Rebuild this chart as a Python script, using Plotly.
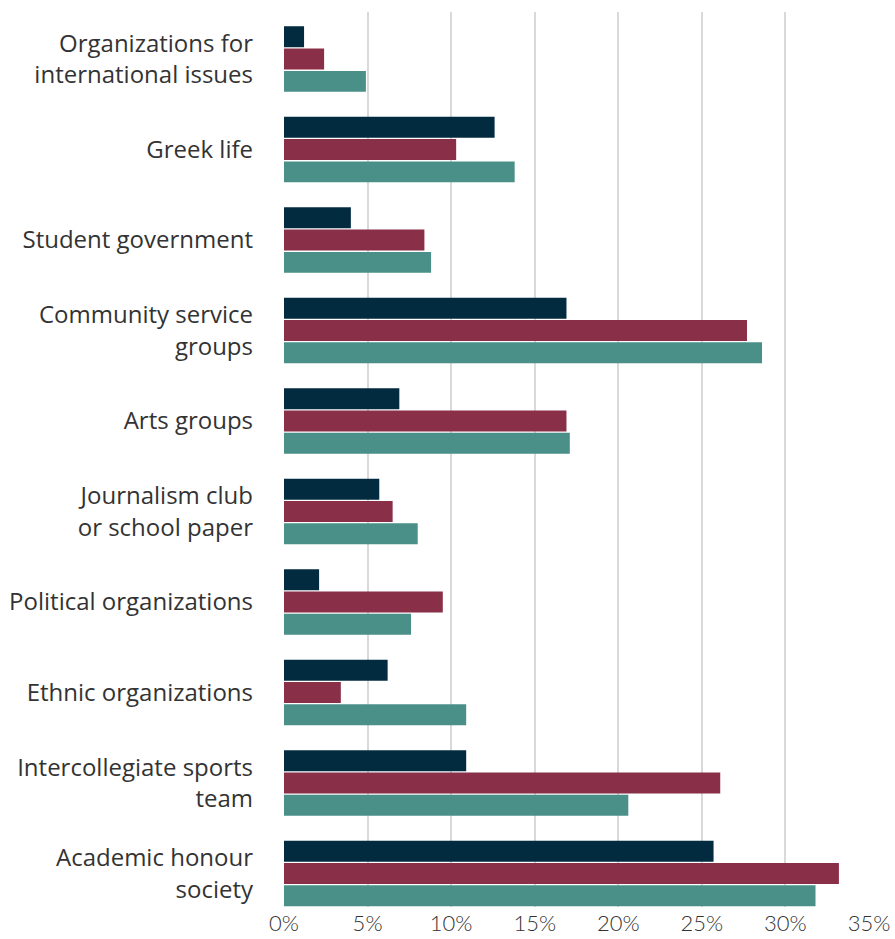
import plotly.graph_objects as go

# Student organisations, top to bottom
categories = [
    "Organizations for<br>international issues",
    "Greek life",
    "Student government",
    "Community service<br>groups",
    "Arts groups",
    "Journalism club<br>or school paper",
    "Political organizations",
    "Ethnic organizations",
    "Intercollegiate sports<br>team",
    "Academic honour<br>society",
]

# Share of students participating (%), one list per group
series_a = [1.2, 12.6, 4.0, 16.9, 6.9, 5.7, 2.1, 6.2, 10.9, 25.7]
series_b = [2.4, 10.3, 8.4, 27.7, 16.9, 6.5, 9.5, 3.4, 26.1, 33.2]
series_c = [4.9, 13.8, 8.8, 28.6, 17.1, 8.0, 7.6, 10.9, 20.6, 31.8]

series_names = ["Group A", "Group B", "Group C"]
series_colors = ["#022b40", "#8a2f48", "#4a8f88"]

x_ticks = [0, 5, 10, 15, 20, 25, 30, 35]
x_tick_labels = ["0%", "5%", "10%", "15%", "20%", "25%", "30%", "35%"]

fig = go.Figure()
for name, values, color in zip(series_names, [series_a, series_b, series_c], series_colors):
    fig.add_trace(go.Bar(
        y=categories,
        x=values,
        name=name,
        orientation="h",
        marker=dict(color=color, line=dict(width=0)),
    ))

fig.update_layout(
    width=895,
    height=939,
    margin=dict(l=284, r=26, t=12, b=32),
    paper_bgcolor="white",
    plot_bgcolor="white",
    barmode="group",
    bargap=0.26,
    bargroupgap=0.06,
    showlegend=False,
    font=dict(family="Open Sans", color="#333333"),
)

fig.update_xaxes(
    range=[0, 35],
    tickvals=x_ticks,
    ticktext=x_tick_labels,
    showgrid=True,
    gridcolor="#d9d9d9",
    gridwidth=2,
    zeroline=False,
    showline=False,
    automargin=False,
    tickfont=dict(family="Lato", size=22, color="#333333", weight=300),
    ticks="",
    ticklabelstandoff=1,
)

fig.update_yaxes(
    type="category",
    range=[9.37, -0.52],
    showgrid=False,
    zeroline=False,
    showline=False,
    automargin=False,
    ticks="",
    tickfont=dict(family="Open Sans", size=24, color="#333333"),
    ticklabelstandoff=30,
)

fig.write_html("out.html")
